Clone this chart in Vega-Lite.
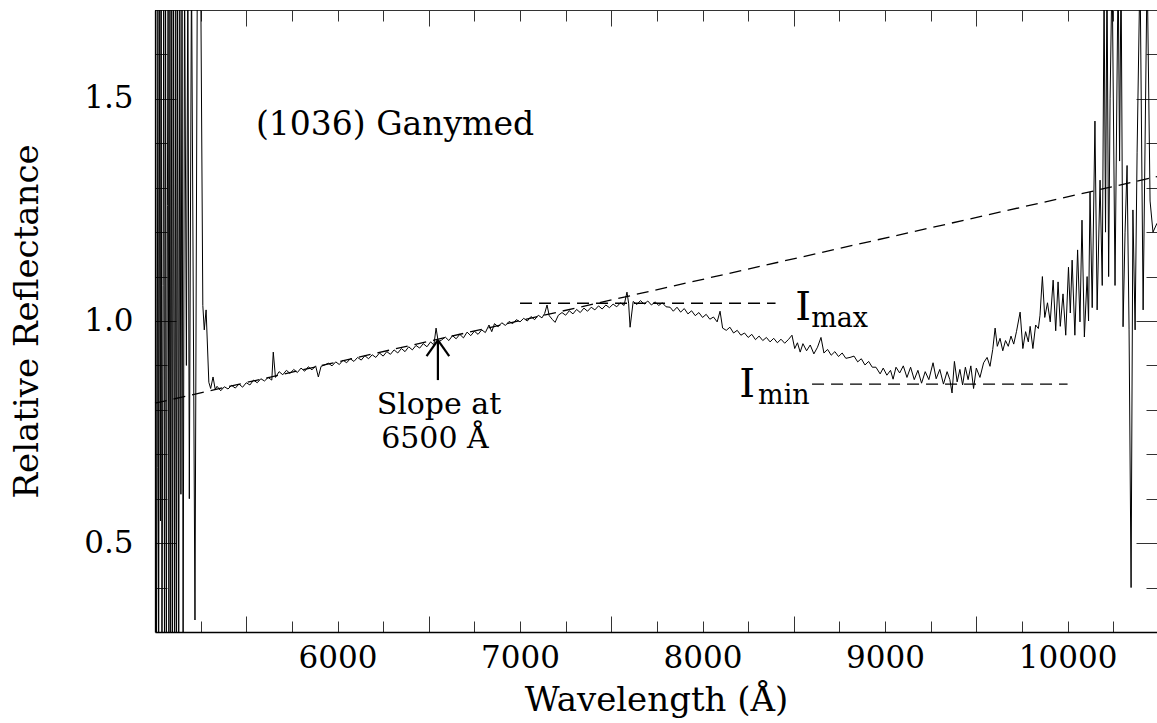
{
  "$schema": "https://vega.github.io/schema/vega-lite/v6.json",
  "autosize": {"type": "none"},
  "padding": {"left": 155, "top": 10, "right": 0, "bottom": 91},
  "width": 1002,
  "height": 622,
  "background": "white",
  "config": {"view": {"stroke": null}, "font": "DejaVu Serif"},
  "datasets": {
    "spectrum": [
      {"w": 5000, "r": 0.76}, {"w": 5004, "r": 1.8}, {"w": 5008, "r": 0.2}, {"w": 5012, "r": 0.67},
      {"w": 5016, "r": 1.8}, {"w": 5020, "r": 0.2}, {"w": 5026, "r": 1.8}, {"w": 5030, "r": 0.55},
      {"w": 5034, "r": 1.8}, {"w": 5038, "r": 0.2}, {"w": 5044, "r": 1.08}, {"w": 5048, "r": 1.8},
      {"w": 5052, "r": 0.2}, {"w": 5058, "r": 1.8}, {"w": 5062, "r": 0.2}, {"w": 5068, "r": 1.26},
      {"w": 5072, "r": 1.8}, {"w": 5076, "r": 0.2}, {"w": 5082, "r": 1.8}, {"w": 5086, "r": 0.2},
      {"w": 5092, "r": 1.8}, {"w": 5096, "r": 0.2}, {"w": 5102, "r": 1.8}, {"w": 5108, "r": 0.2},
      {"w": 5114, "r": 1.8}, {"w": 5118, "r": 0.2}, {"w": 5124, "r": 1.8}, {"w": 5130, "r": 0.2},
      {"w": 5136, "r": 1.8}, {"w": 5142, "r": 0.61}, {"w": 5148, "r": 1.8}, {"w": 5154, "r": 0.2},
      {"w": 5162, "r": 1.8}, {"w": 5172, "r": 0.9}, {"w": 5180, "r": 1.8}, {"w": 5188, "r": 0.6},
      {"w": 5200, "r": 1.8}, {"w": 5219, "r": 0.327}, {"w": 5232, "r": 1.8}, {"w": 5250, "r": 1.8},
      {"w": 5262, "r": 1.035}, {"w": 5270, "r": 0.98}, {"w": 5280, "r": 1.025}, {"w": 5295, "r": 0.862},
      {"w": 5305, "r": 0.848}, {"w": 5318, "r": 0.874}, {"w": 5330, "r": 0.846}, {"w": 5340, "r": 0.853},
      {"w": 5360, "r": 0.843}, {"w": 5380, "r": 0.852}, {"w": 5400, "r": 0.847}, {"w": 5420, "r": 0.855},
      {"w": 5440, "r": 0.849}, {"w": 5460, "r": 0.858}, {"w": 5480, "r": 0.851}, {"w": 5500, "r": 0.861},
      {"w": 5520, "r": 0.856}, {"w": 5540, "r": 0.867}, {"w": 5560, "r": 0.861}, {"w": 5580, "r": 0.870},
      {"w": 5600, "r": 0.865}, {"w": 5620, "r": 0.873}, {"w": 5640, "r": 0.867}, {"w": 5648, "r": 0.930},
      {"w": 5660, "r": 0.873}, {"w": 5680, "r": 0.886}, {"w": 5700, "r": 0.879}, {"w": 5720, "r": 0.889},
      {"w": 5740, "r": 0.882}, {"w": 5760, "r": 0.891}, {"w": 5780, "r": 0.884}, {"w": 5800, "r": 0.894},
      {"w": 5820, "r": 0.887}, {"w": 5840, "r": 0.897}, {"w": 5860, "r": 0.890}, {"w": 5880, "r": 0.899},
      {"w": 5895, "r": 0.874}, {"w": 5910, "r": 0.898}, {"w": 5930, "r": 0.901}, {"w": 5950, "r": 0.905},
      {"w": 5970, "r": 0.899}, {"w": 5990, "r": 0.908}, {"w": 6010, "r": 0.902}, {"w": 6030, "r": 0.912},
      {"w": 6050, "r": 0.906}, {"w": 6070, "r": 0.915}, {"w": 6090, "r": 0.909}, {"w": 6110, "r": 0.918},
      {"w": 6130, "r": 0.912}, {"w": 6150, "r": 0.922}, {"w": 6170, "r": 0.915}, {"w": 6190, "r": 0.924},
      {"w": 6210, "r": 0.918}, {"w": 6230, "r": 0.928}, {"w": 6250, "r": 0.921}, {"w": 6270, "r": 0.931},
      {"w": 6290, "r": 0.925}, {"w": 6310, "r": 0.935}, {"w": 6330, "r": 0.928}, {"w": 6350, "r": 0.938},
      {"w": 6370, "r": 0.931}, {"w": 6390, "r": 0.942}, {"w": 6410, "r": 0.935}, {"w": 6430, "r": 0.945},
      {"w": 6450, "r": 0.939}, {"w": 6470, "r": 0.949}, {"w": 6490, "r": 0.942}, {"w": 6510, "r": 0.953},
      {"w": 6528, "r": 0.946}, {"w": 6540, "r": 0.984}, {"w": 6552, "r": 0.953}, {"w": 6570, "r": 0.957},
      {"w": 6590, "r": 0.964}, {"w": 6610, "r": 0.956}, {"w": 6630, "r": 0.967}, {"w": 6650, "r": 0.960},
      {"w": 6670, "r": 0.970}, {"w": 6690, "r": 0.962}, {"w": 6710, "r": 0.975}, {"w": 6730, "r": 0.967},
      {"w": 6750, "r": 0.977}, {"w": 6770, "r": 0.970}, {"w": 6790, "r": 0.980}, {"w": 6810, "r": 0.974},
      {"w": 6830, "r": 0.991}, {"w": 6845, "r": 0.976}, {"w": 6860, "r": 0.994}, {"w": 6880, "r": 0.987},
      {"w": 6900, "r": 0.996}, {"w": 6920, "r": 0.990}, {"w": 6940, "r": 0.999}, {"w": 6960, "r": 0.994},
      {"w": 6980, "r": 1.003}, {"w": 7000, "r": 0.998}, {"w": 7020, "r": 1.006}, {"w": 7040, "r": 1.000},
      {"w": 7060, "r": 1.010}, {"w": 7080, "r": 1.003}, {"w": 7100, "r": 1.013}, {"w": 7120, "r": 1.007},
      {"w": 7135, "r": 1.017}, {"w": 7148, "r": 1.036}, {"w": 7160, "r": 1.012}, {"w": 7178, "r": 1.003},
      {"w": 7192, "r": 0.997}, {"w": 7210, "r": 1.013}, {"w": 7230, "r": 1.019}, {"w": 7250, "r": 1.013},
      {"w": 7270, "r": 1.023}, {"w": 7290, "r": 1.016}, {"w": 7310, "r": 1.026}, {"w": 7330, "r": 1.019},
      {"w": 7350, "r": 1.029}, {"w": 7370, "r": 1.022}, {"w": 7390, "r": 1.031}, {"w": 7410, "r": 1.025},
      {"w": 7430, "r": 1.034}, {"w": 7450, "r": 1.027}, {"w": 7470, "r": 1.036}, {"w": 7490, "r": 1.030},
      {"w": 7510, "r": 1.038}, {"w": 7530, "r": 1.032}, {"w": 7550, "r": 1.041}, {"w": 7570, "r": 1.035},
      {"w": 7586, "r": 1.065}, {"w": 7595, "r": 1.040}, {"w": 7603, "r": 0.986}, {"w": 7620, "r": 1.044},
      {"w": 7640, "r": 1.037}, {"w": 7660, "r": 1.046}, {"w": 7680, "r": 1.038}, {"w": 7700, "r": 1.045},
      {"w": 7720, "r": 1.036}, {"w": 7740, "r": 1.043}, {"w": 7760, "r": 1.035}, {"w": 7780, "r": 1.041},
      {"w": 7800, "r": 1.032}, {"w": 7822, "r": 1.031}, {"w": 7840, "r": 1.022}, {"w": 7860, "r": 1.031},
      {"w": 7880, "r": 1.020}, {"w": 7900, "r": 1.028}, {"w": 7920, "r": 1.016}, {"w": 7940, "r": 1.023},
      {"w": 7960, "r": 1.012}, {"w": 7980, "r": 1.019}, {"w": 8000, "r": 1.008}, {"w": 8020, "r": 1.015},
      {"w": 8040, "r": 1.004}, {"w": 8060, "r": 1.009}, {"w": 8080, "r": 0.998}, {"w": 8096, "r": 1.022},
      {"w": 8110, "r": 0.984}, {"w": 8130, "r": 0.979}, {"w": 8150, "r": 0.986}, {"w": 8170, "r": 0.973},
      {"w": 8190, "r": 0.979}, {"w": 8210, "r": 0.968}, {"w": 8230, "r": 0.973}, {"w": 8250, "r": 0.963},
      {"w": 8270, "r": 0.970}, {"w": 8290, "r": 0.958}, {"w": 8310, "r": 0.966}, {"w": 8330, "r": 0.956},
      {"w": 8350, "r": 0.963}, {"w": 8370, "r": 0.953}, {"w": 8390, "r": 0.961}, {"w": 8410, "r": 0.951},
      {"w": 8430, "r": 0.959}, {"w": 8450, "r": 0.950}, {"w": 8470, "r": 0.958}, {"w": 8490, "r": 0.968},
      {"w": 8505, "r": 0.938}, {"w": 8520, "r": 0.951}, {"w": 8535, "r": 0.930}, {"w": 8550, "r": 0.949},
      {"w": 8570, "r": 0.933}, {"w": 8590, "r": 0.946}, {"w": 8610, "r": 0.926}, {"w": 8630, "r": 0.941},
      {"w": 8649, "r": 0.963}, {"w": 8665, "r": 0.928}, {"w": 8685, "r": 0.936}, {"w": 8705, "r": 0.923},
      {"w": 8725, "r": 0.931}, {"w": 8745, "r": 0.920}, {"w": 8765, "r": 0.928}, {"w": 8785, "r": 0.916},
      {"w": 8808, "r": 0.918}, {"w": 8830, "r": 0.921}, {"w": 8850, "r": 0.908}, {"w": 8870, "r": 0.915},
      {"w": 8890, "r": 0.901}, {"w": 8910, "r": 0.909}, {"w": 8930, "r": 0.896}, {"w": 8950, "r": 0.896},
      {"w": 8973, "r": 0.881}, {"w": 8990, "r": 0.894}, {"w": 9010, "r": 0.878}, {"w": 9030, "r": 0.889},
      {"w": 9044, "r": 0.869}, {"w": 9060, "r": 0.896}, {"w": 9080, "r": 0.883}, {"w": 9100, "r": 0.899},
      {"w": 9120, "r": 0.873}, {"w": 9140, "r": 0.896}, {"w": 9160, "r": 0.868}, {"w": 9180, "r": 0.889},
      {"w": 9200, "r": 0.860}, {"w": 9220, "r": 0.886}, {"w": 9240, "r": 0.868}, {"w": 9263, "r": 0.906},
      {"w": 9280, "r": 0.870}, {"w": 9300, "r": 0.891}, {"w": 9320, "r": 0.858}, {"w": 9340, "r": 0.886},
      {"w": 9355, "r": 0.868}, {"w": 9367, "r": 0.838}, {"w": 9380, "r": 0.909}, {"w": 9395, "r": 0.863},
      {"w": 9410, "r": 0.891}, {"w": 9425, "r": 0.856}, {"w": 9440, "r": 0.896}, {"w": 9455, "r": 0.868},
      {"w": 9470, "r": 0.899}, {"w": 9485, "r": 0.848}, {"w": 9500, "r": 0.894}, {"w": 9520, "r": 0.873},
      {"w": 9540, "r": 0.906}, {"w": 9559, "r": 0.918}, {"w": 9575, "r": 0.898}, {"w": 9590, "r": 0.936},
      {"w": 9603, "r": 0.984}, {"w": 9615, "r": 0.943}, {"w": 9630, "r": 0.961}, {"w": 9645, "r": 0.933},
      {"w": 9660, "r": 0.956}, {"w": 9675, "r": 0.943}, {"w": 9690, "r": 0.966}, {"w": 9705, "r": 0.948},
      {"w": 9720, "r": 0.976}, {"w": 9740, "r": 1.020}, {"w": 9755, "r": 0.938}, {"w": 9770, "r": 0.976},
      {"w": 9785, "r": 0.953}, {"w": 9795, "r": 0.988}, {"w": 9810, "r": 0.938}, {"w": 9825, "r": 0.991},
      {"w": 9840, "r": 0.983}, {"w": 9849, "r": 1.013}, {"w": 9862, "r": 1.100}, {"w": 9875, "r": 1.008},
      {"w": 9890, "r": 1.041}, {"w": 9905, "r": 0.998}, {"w": 9921, "r": 1.092}, {"w": 9935, "r": 0.978},
      {"w": 9948, "r": 1.088}, {"w": 9960, "r": 0.988}, {"w": 9975, "r": 1.061}, {"w": 9990, "r": 0.968},
      {"w": 10005, "r": 1.121}, {"w": 10015, "r": 1.018}, {"w": 10025, "r": 1.137}, {"w": 10040, "r": 0.968},
      {"w": 10055, "r": 1.160}, {"w": 10068, "r": 0.998}, {"w": 10079, "r": 1.227}, {"w": 10092, "r": 0.964},
      {"w": 10107, "r": 1.100}, {"w": 10115, "r": 1.000}, {"w": 10123, "r": 1.290}, {"w": 10135, "r": 1.030},
      {"w": 10150, "r": 1.450}, {"w": 10162, "r": 1.025}, {"w": 10178, "r": 1.317}, {"w": 10190, "r": 1.080},
      {"w": 10200, "r": 1.750}, {"w": 10208, "r": 1.200}, {"w": 10216, "r": 1.800}, {"w": 10225, "r": 1.100},
      {"w": 10233, "r": 1.500}, {"w": 10244, "r": 1.800}, {"w": 10260, "r": 1.080}, {"w": 10277, "r": 1.800},
      {"w": 10285, "r": 1.360}, {"w": 10293, "r": 1.800}, {"w": 10304, "r": 0.987}, {"w": 10315, "r": 1.200},
      {"w": 10326, "r": 1.350}, {"w": 10337, "r": 0.980}, {"w": 10348, "r": 0.400}, {"w": 10358, "r": 1.250},
      {"w": 10370, "r": 0.980}, {"w": 10381, "r": 1.380}, {"w": 10397, "r": 1.800}, {"w": 10414, "r": 1.025},
      {"w": 10436, "r": 1.800}, {"w": 10452, "r": 1.270}, {"w": 10468, "r": 1.200}, {"w": 10490, "r": 1.220}
    ],
    "dashed": [
      {"w": 5000, "r": 0.815, "w2": 10490, "r2": 1.325},
      {"w": 7000, "r": 1.04, "w2": 8400, "r2": 1.04},
      {"w": 8600, "r": 0.858, "w2": 10000, "r2": 0.858}
    ],
    "arrow": [
      {"w": 6550, "r": 0.867, "w2": 6550, "r2": 0.957},
      {"w": 6488, "r": 0.921, "w2": 6550, "r2": 0.957},
      {"w": 6612, "r": 0.921, "w2": 6550, "r2": 0.957}
    ],
    "title": [
      {"w": 6315, "r": 1.419, "label": "(1036) Ganymed"}
    ],
    "notes": [
      {"w": 6556, "r": 0.7905, "label": "Slope at"},
      {"w": 6534, "r": 0.714, "label": "6500 Å"}
    ],
    "bigI": [
      {"w": 8551, "r": 1.002, "label": "I"},
      {"w": 8244, "r": 0.829, "label": "I"}
    ],
    "subs": [
      {"w": 8595, "r": 0.986, "label": "max"},
      {"w": 8304, "r": 0.813, "label": "min"}
    ]
  },
  "resolve": {"axis": {"x": "independent", "y": "independent"}},
  "layer": [
    {
      "data": {"name": "spectrum"},
      "mark": {"type": "line", "clip": true, "color": "black", "strokeWidth": 1},
      "encoding": {
        "x": {
          "field": "w", "type": "quantitative",
          "scale": {"domain": [5000, 10490], "nice": false, "zero": false},
          "axis": {
            "orient": "bottom",
            "values": [5250, 5500, 5750, 6000, 6250, 6500, 6750, 7000, 7250, 7500, 7750, 8000, 8250, 8500, 8750, 9000, 9250, 9500, 9750, 10000, 10250],
            "grid": false,
            "tickSize": {"condition": {"test": "datum.value % 1000 === 500", "value": -16}, "value": -11},
            "tickColor": "#333", "tickWidth": 1,
            "domainColor": "black", "domainWidth": 1.3,
            "labelExpr": "datum.value % 1000 === 0 ? format(datum.value, 'd') : ''",
            "labelPadding": 22, "labelFont": "DejaVu Serif", "labelFontSize": 31, "labelColor": "black",
            "labelOverlap": false, "labelFlush": false, "labelBound": false,
            "title": "Wavelength (Å)",
            "titleFont": "DejaVu Serif", "titleFontSize": 34, "titleFontWeight": "normal", "titleColor": "black",
            "titleX": 501, "titleY": 78, "titleAlign": "center", "titleBaseline": "alphabetic"
          }
        },
        "y": {
          "field": "r", "type": "quantitative",
          "scale": {"domain": [0.3, 1.7], "nice": false, "zero": false},
          "axis": {
            "orient": "left",
            "values": [0.4, 0.5, 0.6, 0.7, 0.8, 0.9, 1.0, 1.1, 1.2, 1.3, 1.4, 1.5, 1.6],
            "grid": false,
            "tickSize": {"condition": {"test": "abs(datum.value * 2 - round(datum.value * 2)) < 0.01", "value": -21}, "value": -12},
            "tickColor": "#333", "tickWidth": 1,
            "domainColor": "black", "domainWidth": 1.3,
            "labelExpr": "abs(datum.value * 2 - round(datum.value * 2)) < 0.01 ? format(datum.value, '.1f') : ''",
            "labelPadding": 43, "labelFont": "DejaVu Serif", "labelFontSize": 31, "labelColor": "black",
            "labelOverlap": false, "labelFlush": false, "labelBound": false,
            "title": "Relative Reflectance",
            "titleFont": "DejaVu Serif", "titleFontSize": 34, "titleFontWeight": "normal", "titleColor": "black",
            "titleX": -118, "titleY": 311, "titleAngle": 270, "titleAlign": "center", "titleBaseline": "alphabetic"
          }
        }
      }
    },
    {
      "data": {"name": "dashed"},
      "mark": {"type": "rule", "color": "black", "strokeWidth": 1.3, "strokeDash": [12, 7]},
      "encoding": {
        "x": {
          "field": "w", "type": "quantitative",
          "scale": {"domain": [5000, 10490], "nice": false, "zero": false},
          "axis": {
            "orient": "top",
            "values": [5250, 5500, 5750, 6000, 6250, 6500, 6750, 7000, 7250, 7500, 7750, 8000, 8250, 8500, 8750, 9000, 9250, 9500, 9750, 10000, 10250],
            "grid": false, "labels": false, "title": null,
            "tickSize": {"condition": {"test": "datum.value % 1000 === 500", "value": -16}, "value": -11},
            "tickColor": "#333", "tickWidth": 1,
            "domainColor": "#333", "domainWidth": 1.2
          }
        },
        "x2": {"field": "w2"},
        "y": {
          "field": "r", "type": "quantitative",
          "scale": {"domain": [0.3, 1.7], "nice": false, "zero": false},
          "axis": {
            "orient": "right",
            "values": [0.4, 0.5, 0.6, 0.7, 0.8, 0.9, 1.0, 1.1, 1.2, 1.3, 1.4, 1.5, 1.6],
            "grid": false, "labels": false, "title": null, "domain": false,
            "tickSize": {"condition": {"test": "abs(datum.value * 2 - round(datum.value * 2)) < 0.01", "value": -21}, "value": -11},
            "tickColor": "#333", "tickWidth": 1
          }
        },
        "y2": {"field": "r2"}
      }
    },
    {
      "data": {"name": "arrow"},
      "mark": {"type": "rule", "color": "black", "strokeWidth": 2.2},
      "encoding": {
        "x": {"field": "w", "type": "quantitative", "scale": {"domain": [5000, 10490], "nice": false, "zero": false}, "axis": null},
        "x2": {"field": "w2"},
        "y": {"field": "r", "type": "quantitative", "scale": {"domain": [0.3, 1.7], "nice": false, "zero": false}, "axis": null},
        "y2": {"field": "r2"}
      }
    },
    {
      "data": {"name": "title"},
      "mark": {"type": "text", "font": "DejaVu Serif", "fontSize": 33, "color": "black", "align": "center", "baseline": "alphabetic"},
      "encoding": {
        "x": {"field": "w", "type": "quantitative", "scale": {"domain": [5000, 10490], "nice": false, "zero": false}, "axis": null},
        "y": {"field": "r", "type": "quantitative", "scale": {"domain": [0.3, 1.7], "nice": false, "zero": false}, "axis": null},
        "text": {"field": "label"}
      }
    },
    {
      "data": {"name": "notes"},
      "mark": {"type": "text", "font": "DejaVu Serif", "fontSize": 30, "color": "black", "align": "center", "baseline": "alphabetic"},
      "encoding": {
        "x": {"field": "w", "type": "quantitative", "scale": {"domain": [5000, 10490], "nice": false, "zero": false}, "axis": null},
        "y": {"field": "r", "type": "quantitative", "scale": {"domain": [0.3, 1.7], "nice": false, "zero": false}, "axis": null},
        "text": {"field": "label"}
      }
    },
    {
      "data": {"name": "bigI"},
      "mark": {"type": "text", "font": "DejaVu Serif", "fontSize": 40, "color": "black", "align": "center", "baseline": "alphabetic"},
      "encoding": {
        "x": {"field": "w", "type": "quantitative", "scale": {"domain": [5000, 10490], "nice": false, "zero": false}, "axis": null},
        "y": {"field": "r", "type": "quantitative", "scale": {"domain": [0.3, 1.7], "nice": false, "zero": false}, "axis": null},
        "text": {"field": "label"}
      }
    },
    {
      "data": {"name": "subs"},
      "mark": {"type": "text", "font": "DejaVu Serif", "fontSize": 27, "color": "black", "align": "left", "baseline": "alphabetic"},
      "encoding": {
        "x": {"field": "w", "type": "quantitative", "scale": {"domain": [5000, 10490], "nice": false, "zero": false}, "axis": null},
        "y": {"field": "r", "type": "quantitative", "scale": {"domain": [0.3, 1.7], "nice": false, "zero": false}, "axis": null},
        "text": {"field": "label"}
      }
    }
  ]
}
